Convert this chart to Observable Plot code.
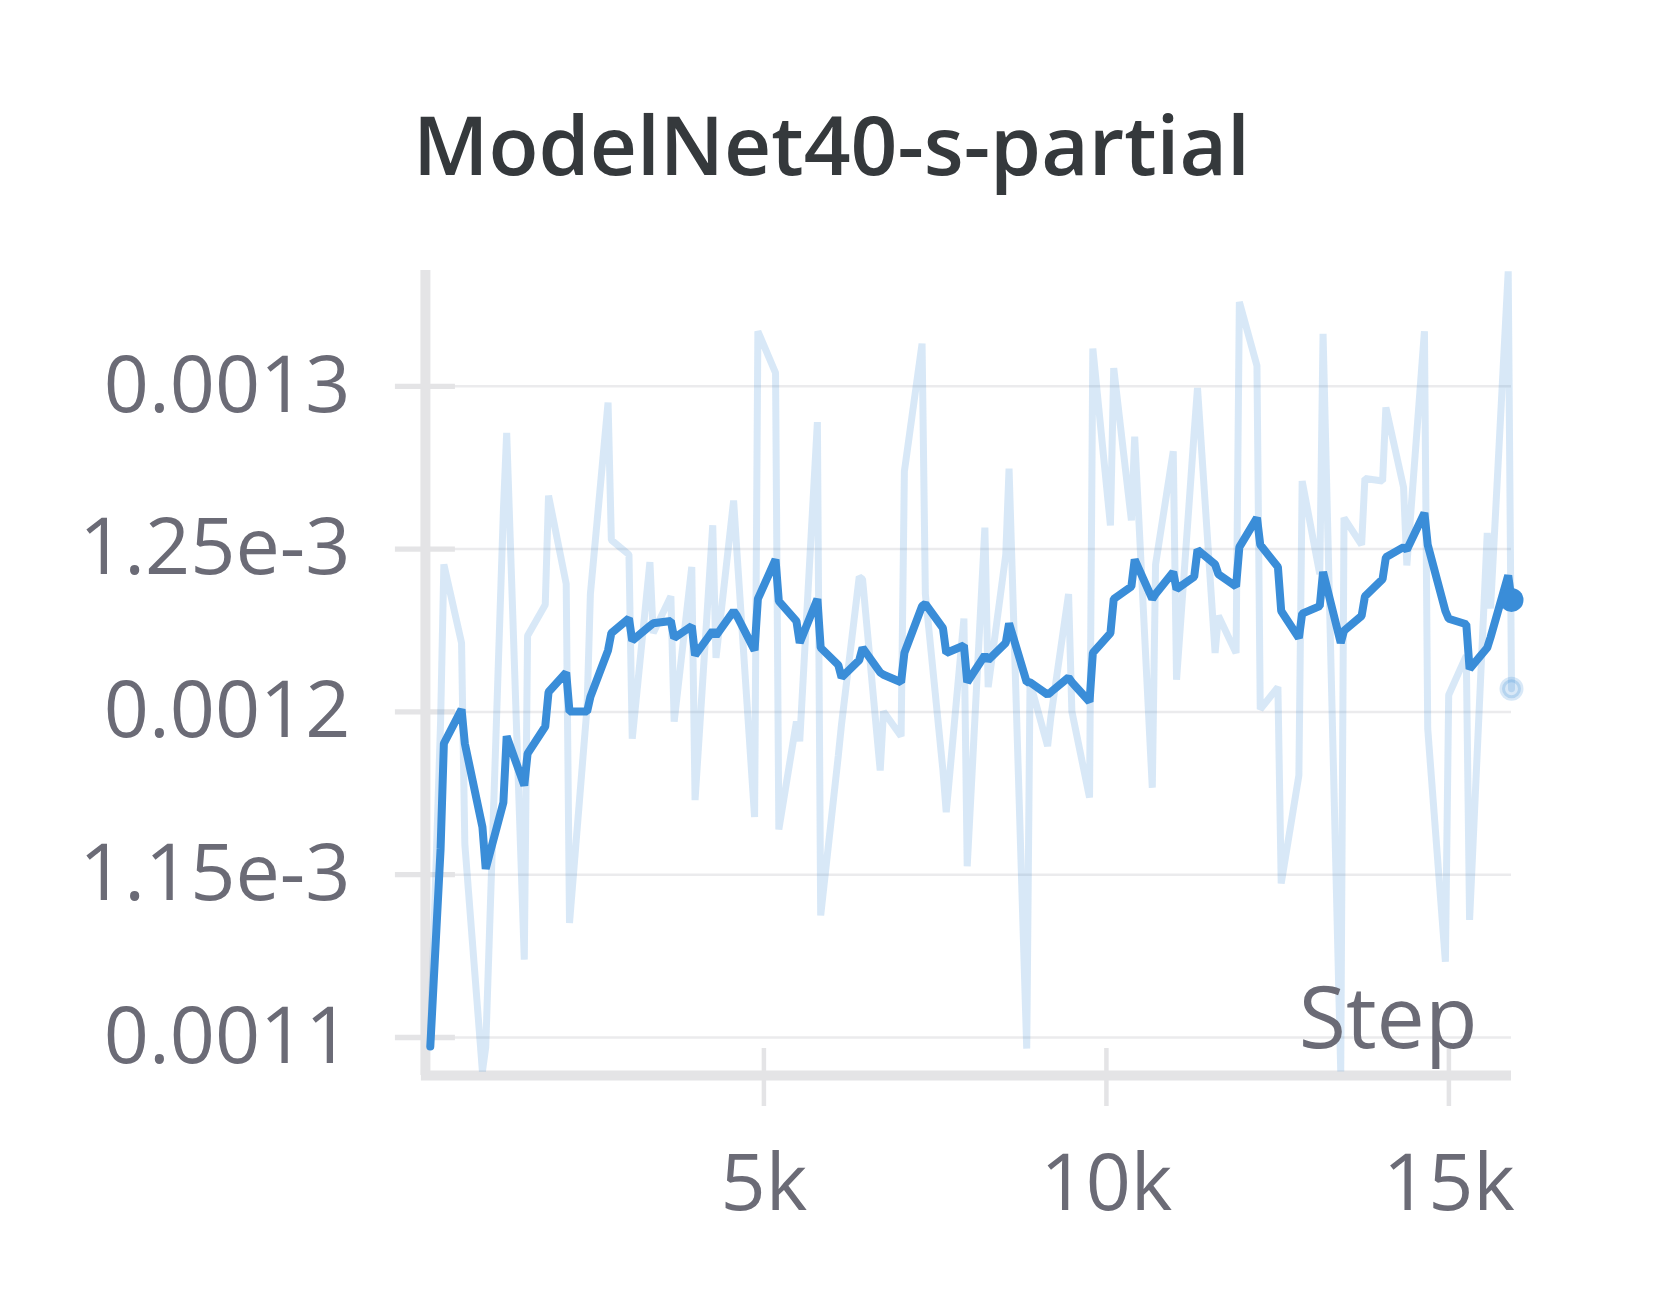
<!DOCTYPE html>
<html>
<head>
<meta charset="utf-8">
<script src="https://cdn.jsdelivr.net/npm/d3@7"></script>
<script src="https://cdn.jsdelivr.net/npm/@observablehq/plot@0.6"></script>
<style>
  html, body { margin: 0; padding: 0; background: #ffffff; }
  #wrap { width: 1660px; height: 1310px; background: #ffffff; }
  #title { position: relative; height: 230px; }
  #title span {
    position: absolute; left: 413px; top: 103px;
    font: 600 82px/80px "Open Sans", "Noto Sans", sans-serif;
    color: #35393c; white-space: nowrap;
  }
</style>
</head>
<body>
<div id="wrap">
  <div id="title"><span>ModelNet40-s-partial</span></div>
  <div id="chart"></div>
</div>
<script>
const titleText = "ModelNet40-s-partial";
const xLabel = "Step";

const steps = [130, 280,328, 586,634, 891,939, 1197,1245, 1502,1550, 1808,1856, 2114,2162, 2419,2467, 2725,2773, 3030,3078, 3336,3384, 3642,3690, 3947,3995, 4253,4301, 4558,4606, 4864,4912, 5170,5218, 5475,5523, 5781,5829, 6086,6134, 6392,6440, 6698,6746, 7003,7051, 7309,7357, 7614,7662, 7920,7968, 8226,8274, 8531,8579, 8837,8885, 9142,9190, 9448,9496, 9754,9802, 10059,10107, 10365,10413, 10670,10718, 10976,11024, 11282,11330, 11587,11635, 11893,11941, 12198,12246, 12504,12552, 12810,12858, 13115,13163, 13421,13469, 13726,13774, 14032,14080, 14338,14386, 14643,14691, 14949,14997, 15254,15302, 15560,15608, 15866,15914];

const rawValues = [1.0972e-3,
  1.1969e-3,1.2453e-3, 1.2212e-3,1.1594e-3, 1.0896e-3,1.0970e-3, 1.2619e-3,1.2857e-3, 1.1239e-3,1.2234e-3,
  1.2329e-3,1.2664e-3, 1.2393e-3,1.1352e-3, 1.2016e-3,1.2362e-3, 1.2950e-3,1.2528e-3, 1.2483e-3,1.1918e-3,
  1.2460e-3,1.2242e-3, 1.2355e-3,1.1970e-3, 1.2445e-3,1.1729e-3, 1.2573e-3,1.2166e-3, 1.2649e-3,1.2492e-3,
  1.1677e-3,1.3169e-3, 1.3041e-3,1.1639e-3, 1.1970e-3,1.1910e-3, 1.2890e-3,1.1375e-3, 1.1865e-3,1.1963e-3,
  1.2415e-3,1.2408e-3, 1.1820e-3,1.2001e-3, 1.1925e-3,1.2739e-3, 1.3131e-3,1.2362e-3, 1.1820e-3,1.1692e-3,
  1.2287e-3,1.1526e-3, 1.2566e-3,1.2076e-3, 1.2483e-3,1.2747e-3, 1.0966e-3,1.2091e-3, 1.1895e-3,1.1986e-3,
  1.2362e-3,1.2001e-3, 1.1737e-3,1.3116e-3, 1.2573e-3,1.3056e-3, 1.2588e-3,1.2845e-3, 1.1767e-3,1.2453e-3,
  1.2800e-3,1.2099e-3, 1.2860e-3,1.2995e-3, 1.2181e-3,1.2295e-3, 1.2181e-3,1.3259e-3, 1.3063e-3,1.2008e-3,
  1.2076e-3,1.1473e-3, 1.1805e-3,1.2709e-3, 1.2423e-3,1.3161e-3, 1.0896e-3,1.2596e-3, 1.2513e-3,1.2717e-3,
  1.2709e-3,1.2935e-3, 1.2690e-3,1.2450e-3, 1.3169e-3,1.1948e-3, 1.1233e-3,1.2052e-3, 1.2173e-3,1.1361e-3,
  1.2550e-3,1.2317e-3, 1.3353e-3,1.2071e-3];

const smoothValues = [1.0972e-3,
  1.1579e-3,1.1903e-3, 1.2008e-3,1.1903e-3, 1.1646e-3,1.1518e-3, 1.1722e-3,1.1925e-3, 1.1774e-3,1.1872e-3,
  1.1955e-3,1.2061e-3, 1.2121e-3,1.2001e-3, 1.2001e-3,1.2046e-3, 1.2189e-3,1.2242e-3, 1.2287e-3,1.2219e-3,
  1.2264e-3,1.2272e-3, 1.2279e-3,1.2227e-3, 1.2264e-3,1.2174e-3, 1.2249e-3,1.2234e-3, 1.2310e-3,1.2295e-3,
  1.2189e-3,1.2347e-3, 1.2468e-3,1.2340e-3, 1.2279e-3,1.2212e-3, 1.2347e-3,1.2197e-3, 1.2144e-3,1.2106e-3,
  1.2159e-3,1.2197e-3, 1.2121e-3,1.2114e-3, 1.2091e-3,1.2181e-3, 1.2325e-3,1.2332e-3, 1.2257e-3,1.2181e-3,
  1.2204e-3,1.2091e-3, 1.2174e-3,1.2159e-3, 1.2212e-3,1.2272e-3, 1.2091e-3,1.2091e-3, 1.2053e-3,1.2061e-3,
  1.2106e-3,1.2091e-3, 1.2031e-3,1.2181e-3, 1.2242e-3,1.2347e-3, 1.2385e-3,1.2468e-3, 1.2347e-3,1.2362e-3,
  1.2430e-3,1.2377e-3, 1.2415e-3,1.2498e-3, 1.2453e-3,1.2423e-3, 1.2385e-3,1.2506e-3, 1.2596e-3,1.2513e-3,
  1.2445e-3,1.2310e-3, 1.2227e-3,1.2302e-3, 1.2325e-3,1.2430e-3, 1.2212e-3,1.2249e-3, 1.2295e-3,1.2355e-3,
  1.2408e-3,1.2475e-3, 1.2506e-3,1.2498e-3, 1.2611e-3,1.2513e-3, 1.2310e-3,1.2286e-3, 1.2269e-3,1.2132e-3,
  1.2197e-3,1.2229e-3, 1.2419e-3,1.2344e-3];

const yTicks = [0.0011, 0.00115, 0.0012, 0.00125, 0.0013];
const yTickLabels = ["0.0011", "1.15e-3", "0.0012", "1.25e-3", "0.0013"];
const xTicks = [5000, 10000, 15000];
const xTickLabels = ["5k", "10k", "15k"];
const xDomain = [0, 15914];
const yDomain = [0.00108833, 0.00133556];

const data = steps.map((s, i) => ({step: s, raw: rawValues[i], smooth: smoothValues[i]}));
const last = data[data.length - 1];

const blue = "#3a8dd8";
const axisGray = "#e4e4e6";
const gridGray = "#ebebed";
const textGray = "#6b6b76";

const W = 1660, H = 1080;
const mL = 420.9, mR = 149, mT = 40, mB = 235;
const frameW = W - mL - mR, frameH = H - mT - mB;

const chart = Plot.plot({
  width: W,
  height: H,
  marginLeft: mL,
  marginRight: mR,
  marginTop: mT,
  marginBottom: mB,
  style: {fontFamily: "'Open Sans', 'Noto Sans', sans-serif", fontSize: "79px", color: textGray, background: "#ffffff", overflow: "visible"},
  x: {domain: xDomain},
  y: {domain: yDomain},
  marks: [
    Plot.gridY(yTicks, {stroke: gridGray, strokeOpacity: 1, strokeWidth: 2.5}),
    Plot.tickY(yTicks, {y: d => d, stroke: axisGray, strokeWidth: 5.3, insetLeft: -26, insetRight: frameW - 34}),
    Plot.tickX(xTicks, {x: d => d, stroke: axisGray, strokeWidth: 4.5, insetTop: frameH - 27, insetBottom: -31}),
    Plot.ruleX([xDomain[0]], {stroke: axisGray, strokeWidth: 10, dx: 4}),
    Plot.ruleY([yDomain[0]], {stroke: axisGray, strokeWidth: 10}),
    Plot.line(data, {x: "step", y: "raw", stroke: blue, strokeOpacity: 0.2, strokeWidth: 7, strokeLinejoin: "miter"}),
    Plot.line(data, {x: "step", y: "smooth", stroke: blue, strokeWidth: 8, strokeLinejoin: "miter"}),
    Plot.dot([last], {x: "step", y: "raw", r: 12, fill: blue, fillOpacity: 0.2, stroke: "none"}),
    Plot.dot([last], {x: "step", y: "raw", r: 8, fill: "none", stroke: blue, strokeOpacity: 0.22, strokeWidth: 3}),
    Plot.dot([last], {x: "step", y: "smooth", r: 12, fill: blue}),
    Plot.axisY(yTicks, {anchor: "left", tickSize: 0, tickPadding: 71, tickFormat: d => yTickLabels[yTicks.indexOf(d)], fill: textGray}),
    Plot.axisX(xTicks, {anchor: "bottom", tickSize: 0, tickPadding: 78, tickFormat: d => xTickLabels[xTicks.indexOf(d)], fill: textGray, label: null}),
    Plot.text([xLabel], {frameAnchor: "bottom-right", text: d => d, textAnchor: "end", lineAnchor: "bottom", dx: -34, dy: -28, fontSize: 86, fill: textGray})
  ]
});
document.getElementById("chart").appendChild(chart);
</script>
</body>
</html>
